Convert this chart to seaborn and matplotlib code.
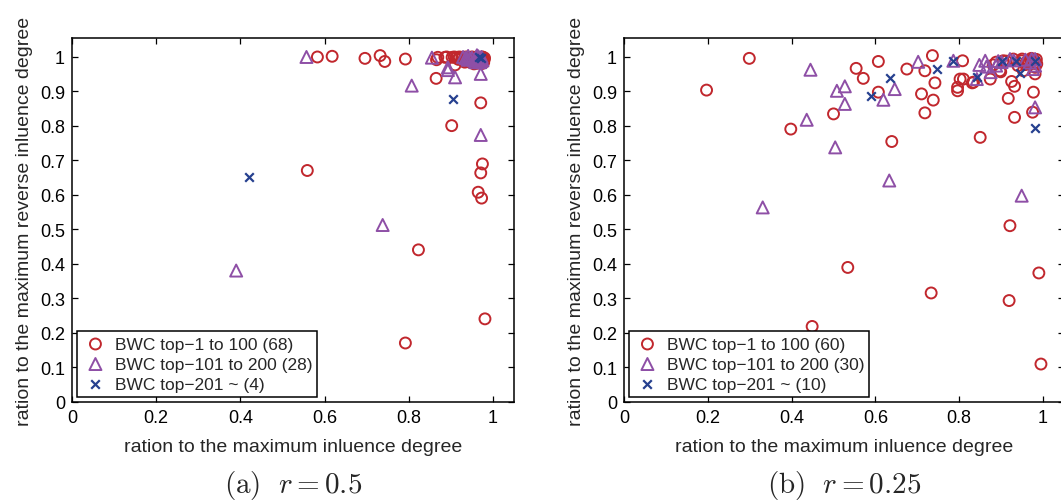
import seaborn as sns
import matplotlib.pyplot as plt
import pandas as pd

# ---- panel (a) r = 0.5 ----
a_top100_x = [0.559, 0.583, 0.618, 0.696, 0.732, 0.743, 0.792, 0.792, 0.823, 0.866,
              0.865, 0.869, 0.886, 0.890, 0.902, 0.903, 0.908, 0.910, 0.914, 0.920,
              0.926, 0.933, 0.936, 0.938, 0.940, 0.945, 0.948, 0.950, 0.952, 0.955,
              0.958, 0.960, 0.962, 0.963, 0.965, 0.965, 0.966, 0.968, 0.969, 0.970,
              0.970, 0.971, 0.971, 0.972, 0.973, 0.973, 0.974, 0.975, 0.975, 0.976,
              0.976, 0.977, 0.978, 0.978, 0.979, 0.980, 0.981, 0.955, 0.945, 0.960,
              0.968, 0.972, 0.930, 0.918, 0.962, 0.957, 0.974, 0.967]
a_top100_y = [0.671, 1.000, 1.002, 0.996, 1.004, 0.987, 0.994, 0.171, 0.441, 0.992,
              0.938, 0.999, 0.999, 1.000, 0.801, 0.999, 1.000, 0.977, 0.999, 1.000,
              0.999, 0.985, 1.000, 0.999, 0.990, 0.990, 0.998, 1.000, 0.999, 0.995,
              0.985, 0.993, 1.000, 0.982, 0.990, 0.608, 0.996, 0.998, 0.999, 0.985,
              0.992, 0.867, 0.664, 0.995, 0.591, 0.998, 0.988, 0.690, 1.000, 0.999,
              0.993, 0.990, 0.996, 0.984, 0.992, 0.997, 0.241, 0.980, 0.985, 0.988,
              0.993, 0.999, 0.990, 0.993, 0.996, 0.999, 0.981, 0.986]
a_top200_x = [0.390, 0.557, 0.738, 0.807, 0.855, 0.893, 0.893, 0.910, 0.929, 0.941,
              0.945, 0.955, 0.962, 0.966, 0.969, 0.970, 0.971, 0.971, 0.972, 0.973,
              0.968, 0.960, 0.950, 0.935, 0.975, 0.965, 0.958, 0.940]
a_top200_y = [0.381, 1.000, 0.513, 0.917, 0.998, 0.970, 0.962, 0.941, 1.000, 1.003,
              0.995, 0.990, 1.005, 0.990, 0.998, 0.985, 0.951, 0.774, 0.993, 1.000,
              0.985, 0.995, 0.998, 0.997, 0.990, 1.002, 0.985, 0.992]
a_rest_x = [0.420, 0.906, 0.971, 0.968]
a_rest_y = [0.653, 0.878, 0.997, 1.000]

# ---- panel (b) r = 0.25 ----
b_top100_x = [0.197, 0.299, 0.398, 0.449, 0.500, 0.534, 0.554, 0.571, 0.607, 0.607,
              0.639, 0.675, 0.710, 0.718, 0.718, 0.733, 0.736, 0.742, 0.738, 0.808,
              0.802, 0.796, 0.796, 0.831, 0.850, 0.874, 0.881, 0.899, 0.905, 0.917,
              0.925, 0.932, 0.932, 0.921, 0.919, 0.949, 0.953, 0.965, 0.977, 0.975,
              0.981, 0.981, 0.981, 0.990, 0.995, 0.810, 0.834, 0.897, 0.929, 0.950,
              0.960, 0.970, 0.985, 0.978, 0.940, 0.912, 0.888, 0.958, 0.972, 0.984]
b_top100_y = [0.904, 0.996, 0.791, 0.219, 0.835, 0.390, 0.967, 0.938, 0.987, 0.898,
              0.755, 0.965, 0.893, 0.960, 0.838, 0.316, 1.004, 0.925, 0.875, 0.989,
              0.936, 0.912, 0.902, 0.925, 0.767, 0.936, 0.977, 0.957, 0.989, 0.880,
              0.929, 0.915, 0.825, 0.511, 0.294, 0.989, 0.960, 0.989, 0.898, 0.840,
              0.951, 0.985, 0.970, 0.374, 0.110, 0.936, 0.927, 0.960, 0.994, 0.994,
              0.985, 0.990, 0.980, 0.992, 0.975, 0.988, 0.985, 0.978, 0.996, 0.993]
b_top200_x = [0.331, 0.436, 0.445, 0.504, 0.508, 0.527, 0.527, 0.619, 0.646, 0.633,
              0.702, 0.786, 0.842, 0.848, 0.862, 0.875, 0.888, 0.901, 0.921, 0.949,
              0.981, 0.973, 0.981, 0.981, 0.865, 0.893, 0.930, 0.958, 0.968, 0.976]
b_top200_y = [0.564, 0.818, 0.963, 0.738, 0.902, 0.915, 0.864, 0.876, 0.907, 0.642,
              0.986, 0.989, 0.936, 0.977, 0.989, 0.956, 0.975, 0.985, 0.994, 0.598,
              0.854, 0.994, 0.994, 0.975, 0.972, 0.988, 0.990, 0.992, 0.984, 0.965]
b_rest_x = [0.589, 0.635, 0.746, 0.784, 0.842, 0.901, 0.936, 0.944, 0.981, 0.981]
b_rest_y = [0.886, 0.938, 0.965, 0.987, 0.941, 0.987, 0.987, 0.954, 0.793, 0.987]

a_counts = [68, 28, 4]
b_counts = [60, 30, 10]
captions = [r"$\mathrm{(a)}\ \ r = 0.5$", r"$\mathrm{(b)}\ \ r = 0.25$"]

red = "#c1272d"
purple = "#8e4fa6"
blue = "#26408f"

sns.set_theme(style="ticks", rc={
    "xtick.direction": "in", "ytick.direction": "in",
    "xtick.top": True, "ytick.right": True,
    "axes.edgecolor": "black", "axes.linewidth": 1.1,
    "xtick.color": "black", "ytick.color": "black",
    "mathtext.fontset": "cm",
})
plt.rcParams["font.family"] = ["Liberation Sans", "DejaVu Sans"]


def make_frame(x1, y1, x2, y2, x3, y3):
    return pd.DataFrame({
        "x": x1 + x2 + x3,
        "y": y1 + y2 + y3,
        "group": ["top100"] * len(x1) + ["top200"] * len(x2) + ["rest"] * len(x3),
    })


def draw_panel(ax, df, counts, caption):
    labels = ["BWC top\u22121 to 100 (%d)" % counts[0],
              "BWC top\u2212101 to 200 (%d)" % counts[1],
              "BWC top\u2212201 ~ (%d)" % counts[2]]
    sub = df[df["group"] == "top100"]
    sns.scatterplot(data=sub, x="x", y="y", marker="o", s=62, facecolor="none",
                    edgecolor=red, linewidth=1.4, ax=ax, label=labels[0])
    sub = df[df["group"] == "top200"]
    sns.scatterplot(data=sub, x="x", y="y", marker="^", s=75, facecolor="none",
                    edgecolor=purple, linewidth=1.4, ax=ax, label=labels[1])
    sub = df[df["group"] == "rest"]
    sns.scatterplot(data=sub, x="x", y="y", marker="x", s=38, color=blue,
                    linewidth=1.6, ax=ax, label=labels[2])
    ax.set_xlim(0, 1.05)
    ax.set_ylim(0, 1.055)
    ax.set_xticks([0, 0.2, 0.4, 0.6, 0.8, 1])
    ax.set_xticklabels(["0", "0.2", "0.4", "0.6", "0.8", "1"])
    ax.set_yticks([i / 10 for i in range(11)])
    ax.set_yticklabels(["0"] + ["0.%d" % i for i in range(1, 10)] + ["1"])
    ax.tick_params(labelsize=13, length=4.5, width=0.9, pad=5)
    ax.set_xlabel("ration to the maximum inluence degree", fontsize=14, labelpad=9)
    ax.set_ylabel("ration to the maximum reverse inluence degree", fontsize=14, labelpad=5)
    leg = ax.legend(loc="lower left", fontsize=12.5, frameon=True, fancybox=False,
                    framealpha=1, edgecolor="black", borderaxespad=0.3,
                    handletextpad=0.35, handlelength=1.5, labelspacing=0.28,
                    borderpad=0.3)
    leg.get_frame().set_linewidth(1.1)
    ax.text(0.5, -0.18, caption, transform=ax.transAxes, ha="center", va="top",
            fontsize=21)


fig = plt.figure(figsize=(10.61, 5.02), dpi=100)
ax1 = fig.add_axes([72 / 1061, 1 - 403 / 502, 442 / 1061, 364 / 502])
ax2 = fig.add_axes([624 / 1061, 1 - 403 / 502, 440 / 1061, 364 / 502])

draw_panel(ax1, make_frame(a_top100_x, a_top100_y, a_top200_x, a_top200_y, a_rest_x, a_rest_y),
           a_counts, captions[0])
draw_panel(ax2, make_frame(b_top100_x, b_top100_y, b_top200_x, b_top200_y, b_rest_x, b_rest_y),
           b_counts, captions[1])

fig.savefig("out.png", dpi=100)
